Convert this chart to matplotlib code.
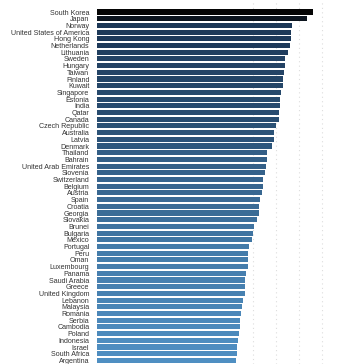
import matplotlib
matplotlib.use("Agg")
import matplotlib.pyplot as plt
from matplotlib import colors as mcolors

# DATA
COUNTRIES = [
    "South Korea", "Japan", "Norway", "United States of America", "Hong Kong",
    "Netherlands", "Lithuania", "Sweden", "Hungary", "Taiwan", "Finland", "Kuwait",
    "Singapore", "Estonia", "India", "Qatar", "Canada", "Czech Republic", "Australia",
    "Latvia", "Denmark", "Thailand", "Bahrain", "United Arab Emirates", "Slovenia",
    "Switzerland", "Belgium", "Austria", "Spain", "Croatia", "Georgia", "Slovakia",
    "Brunei", "Bulgaria", "Mexico", "Portugal", "Peru", "Oman", "Luxembourg", "Panama",
    "Saudi Arabia", "Greece", "United Kingdom", "Lebanon", "Malaysia", "Romania",
    "Serbia", "Cambodia", "Poland", "Indonesia", "Israel", "South Africa", "Argentina",
]
VALUES = [
    96.1, 93.3, 87.0, 86.5, 86.4, 86.1, 85.1, 83.8, 83.8, 83.3, 83.2, 82.9,
    82.2, 81.9, 81.6, 81.4, 81.2, 79.9, 79.3, 79.1, 78.3, 76.1, 76.0, 75.7, 75.3,
    74.5, 74.2, 73.8, 72.9, 72.6, 72.5, 71.6, 70.4, 70.1, 69.6, 68.3, 68.0, 67.8,
    67.7, 67.0, 66.7, 66.7, 66.5, 65.5, 65.3, 64.8, 64.5, 64.2, 64.0, 63.3, 63.2,
    63.2, 62.6,
]
GRID_TICKS = [70, 80, 90, 100]

# STYLE
CMAP = mcolors.LinearSegmentedColormap.from_list(
    "speed", [(0.0, "#4f8fc2"), (0.73, "#1c3756"), (1.0, "#050505")]
)
LABEL_COLOUR = "#333333"

# MAIN CODE
fig = plt.figure(figsize=(3.56, 3.64), dpi=100, facecolor="white")
ax = fig.add_axes([97 / 356, 0, 1 - 97 / 356, 1])

norm = mcolors.Normalize(vmin=min(VALUES), vmax=max(VALUES))
ys = list(range(len(COUNTRIES)))
ax.barh(ys, VALUES, height=0.76, color=[CMAP(norm(v)) for v in VALUES], zorder=2)

for t in GRID_TICKS:
    ax.axvline(t, color="#dddddd", linestyle=(0, (1, 3)), linewidth=0.8, zorder=1)

ax.set_xlim(5 / 2.3, 264 / 2.3)
ax.set_ylim((364 - 12) / 6.7, -12 / 6.7)
ax.set_yticks(ys)
ax.set_yticklabels(COUNTRIES, family="Liberation Sans", fontsize=5.1, color=LABEL_COLOUR)
ax.tick_params(axis="y", length=0, pad=5.5)
ax.set_xticks([])
for spine in ax.spines.values():
    spine.set_visible(False)

fig.savefig("out.png", dpi=100, facecolor="white")
